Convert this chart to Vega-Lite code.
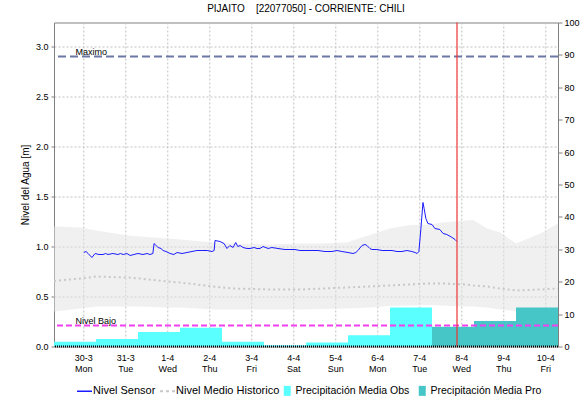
{
  "$schema": "https://vega.github.io/schema/vega-lite/v6.json",
  "width": 504,
  "height": 324,
  "autosize": {"type": "none"},
  "padding": {"left": 54, "top": 22.5, "right": 24, "bottom": 54.5},
  "background": "white",
  "config": {
    "font": "Liberation Sans",
    "view": {"stroke": "#808080", "strokeWidth": 1}
  },
  "title": {
    "text": "PIJAITO\u00a0\u00a0\u00a0 [22077050] - CORRIENTE: CHILI",
    "fontSize": 10,
    "fontWeight": "normal",
    "color": "#000000",
    "anchor": "middle",
    "offset": 5
  },
  "datasets": {
    "dias": [
      {"d": "2020-03-30T00:00:00Z", "fecha": "30-3", "dia": "Mon"},
      {"d": "2020-03-31T00:00:00Z", "fecha": "31-3", "dia": "Tue"},
      {"d": "2020-04-01T00:00:00Z", "fecha": "1-4", "dia": "Wed"},
      {"d": "2020-04-02T00:00:00Z", "fecha": "2-4", "dia": "Thu"},
      {"d": "2020-04-03T00:00:00Z", "fecha": "3-4", "dia": "Fri"},
      {"d": "2020-04-04T00:00:00Z", "fecha": "4-4", "dia": "Sat"},
      {"d": "2020-04-05T00:00:00Z", "fecha": "5-4", "dia": "Sun"},
      {"d": "2020-04-06T00:00:00Z", "fecha": "6-4", "dia": "Mon"},
      {"d": "2020-04-07T00:00:00Z", "fecha": "7-4", "dia": "Tue"},
      {"d": "2020-04-08T00:00:00Z", "fecha": "8-4", "dia": "Wed"},
      {"d": "2020-04-09T00:00:00Z", "fecha": "9-4", "dia": "Thu"},
      {"d": "2020-04-10T00:00:00Z", "fecha": "10-4", "dia": "Fri"}
    ],
    "precip": [
      {"serie": "Precipitación Media Obs", "inicio": "2020-03-29T07:00:00Z", "fin": "2020-03-30T07:00:00Z", "mm": 1.5},
      {"serie": "Precipitación Media Obs", "inicio": "2020-03-30T07:00:00Z", "fin": "2020-03-31T07:00:00Z", "mm": 2.3},
      {"serie": "Precipitación Media Obs", "inicio": "2020-03-31T07:00:00Z", "fin": "2020-04-01T07:00:00Z", "mm": 4.5},
      {"serie": "Precipitación Media Obs", "inicio": "2020-04-01T07:00:00Z", "fin": "2020-04-02T07:00:00Z", "mm": 5.8},
      {"serie": "Precipitación Media Obs", "inicio": "2020-04-02T07:00:00Z", "fin": "2020-04-03T07:00:00Z", "mm": 1.5},
      {"serie": "Precipitación Media Obs", "inicio": "2020-04-03T07:00:00Z", "fin": "2020-04-04T07:00:00Z", "mm": 0.4},
      {"serie": "Precipitación Media Obs", "inicio": "2020-04-04T07:00:00Z", "fin": "2020-04-05T07:00:00Z", "mm": 1.2},
      {"serie": "Precipitación Media Obs", "inicio": "2020-04-05T07:00:00Z", "fin": "2020-04-06T07:00:00Z", "mm": 3.5},
      {"serie": "Precipitación Media Obs", "inicio": "2020-04-06T07:00:00Z", "fin": "2020-04-07T07:00:00Z", "mm": 12.0},
      {"serie": "Precipitación Media Pro", "inicio": "2020-04-07T07:00:00Z", "fin": "2020-04-08T07:00:00Z", "mm": 6.1},
      {"serie": "Precipitación Media Pro", "inicio": "2020-04-08T07:00:00Z", "fin": "2020-04-09T07:00:00Z", "mm": 7.9},
      {"serie": "Precipitación Media Pro", "inicio": "2020-04-09T07:00:00Z", "fin": "2020-04-10T07:00:00Z", "mm": 12.0}
    ],
    "hist": [
      {"t": "2020-03-29T07:00:00Z", "lo": 0.35, "hi": 1.20, "media": 0.655},
      {"t": "2020-03-29T22:00:00Z", "lo": 0.38, "hi": 1.19, "media": 0.68},
      {"t": "2020-03-30T07:00:00Z", "lo": 0.40, "hi": 1.16, "media": 0.70},
      {"t": "2020-03-31T01:00:00Z", "lo": 0.40, "hi": 1.11, "media": 0.69},
      {"t": "2020-03-31T08:00:00Z", "lo": 0.40, "hi": 1.10, "media": 0.68},
      {"t": "2020-04-01T00:00:00Z", "lo": 0.39, "hi": 1.08, "media": 0.65},
      {"t": "2020-04-01T07:00:00Z", "lo": 0.39, "hi": 1.07, "media": 0.64},
      {"t": "2020-04-02T02:00:00Z", "lo": 0.37, "hi": 1.04, "media": 0.60},
      {"t": "2020-04-02T13:00:00Z", "lo": 0.37, "hi": 1.03, "media": 0.58},
      {"t": "2020-04-03T01:00:00Z", "lo": 0.37, "hi": 1.025, "media": 0.575},
      {"t": "2020-04-03T11:00:00Z", "lo": 0.37, "hi": 1.02, "media": 0.57},
      {"t": "2020-04-04T04:00:00Z", "lo": 0.37, "hi": 1.03, "media": 0.57},
      {"t": "2020-04-04T17:00:00Z", "lo": 0.375, "hi": 1.03, "media": 0.58},
      {"t": "2020-04-05T06:00:00Z", "lo": 0.38, "hi": 1.04, "media": 0.59},
      {"t": "2020-04-05T19:30:00Z", "lo": 0.39, "hi": 1.115, "media": 0.60},
      {"t": "2020-04-06T07:00:00Z", "lo": 0.405, "hi": 1.18, "media": 0.61},
      {"t": "2020-04-06T18:30:00Z", "lo": 0.41, "hi": 1.215, "media": 0.62},
      {"t": "2020-04-07T06:00:00Z", "lo": 0.415, "hi": 1.22, "media": 0.63},
      {"t": "2020-04-07T13:00:00Z", "lo": 0.41, "hi": 1.24, "media": 0.63},
      {"t": "2020-04-08T03:00:00Z", "lo": 0.40, "hi": 1.26, "media": 0.62},
      {"t": "2020-04-08T06:30:00Z", "lo": 0.40, "hi": 1.265, "media": 0.61},
      {"t": "2020-04-08T14:30:00Z", "lo": 0.39, "hi": 1.18, "media": 0.60},
      {"t": "2020-04-08T22:00:00Z", "lo": 0.37, "hi": 1.14, "media": 0.58},
      {"t": "2020-04-09T07:00:00Z", "lo": 0.355, "hi": 1.03, "media": 0.56},
      {"t": "2020-04-09T21:00:00Z", "lo": 0.37, "hi": 1.13, "media": 0.57},
      {"t": "2020-04-10T07:00:00Z", "lo": 0.38, "hi": 1.23, "media": 0.58}
    ],
    "sensor": [
      {"t": "2020-03-30T00:00:00Z", "nivel": 0.94},
      {"t": "2020-03-30T01:20:00Z", "nivel": 0.95},
      {"t": "2020-03-30T02:30:00Z", "nivel": 0.93},
      {"t": "2020-03-30T04:40:00Z", "nivel": 0.89},
      {"t": "2020-03-30T06:30:00Z", "nivel": 0.93},
      {"t": "2020-03-30T08:40:00Z", "nivel": 0.92},
      {"t": "2020-03-30T11:00:00Z", "nivel": 0.92},
      {"t": "2020-03-30T12:30:00Z", "nivel": 0.93},
      {"t": "2020-03-30T13:50:00Z", "nivel": 0.92},
      {"t": "2020-03-30T16:40:00Z", "nivel": 0.93},
      {"t": "2020-03-30T19:30:00Z", "nivel": 0.92},
      {"t": "2020-03-30T21:00:00Z", "nivel": 0.93},
      {"t": "2020-03-30T22:30:00Z", "nivel": 0.92},
      {"t": "2020-03-31T00:40:00Z", "nivel": 0.93},
      {"t": "2020-03-31T02:30:00Z", "nivel": 0.91},
      {"t": "2020-03-31T04:40:00Z", "nivel": 0.92},
      {"t": "2020-03-31T07:00:00Z", "nivel": 0.93},
      {"t": "2020-03-31T09:50:00Z", "nivel": 0.92},
      {"t": "2020-03-31T12:10:00Z", "nivel": 0.93},
      {"t": "2020-03-31T13:50:00Z", "nivel": 0.92},
      {"t": "2020-03-31T15:30:00Z", "nivel": 0.93},
      {"t": "2020-03-31T16:10:00Z", "nivel": 1.03},
      {"t": "2020-03-31T17:20:00Z", "nivel": 1.01},
      {"t": "2020-03-31T18:30:00Z", "nivel": 0.99},
      {"t": "2020-03-31T20:10:00Z", "nivel": 0.98},
      {"t": "2020-03-31T21:20:00Z", "nivel": 0.96},
      {"t": "2020-03-31T23:00:00Z", "nivel": 0.95},
      {"t": "2020-04-01T01:20:00Z", "nivel": 0.93},
      {"t": "2020-04-01T03:30:00Z", "nivel": 0.92},
      {"t": "2020-04-01T05:20:00Z", "nivel": 0.94},
      {"t": "2020-04-01T08:10:00Z", "nivel": 0.93},
      {"t": "2020-04-01T11:00:00Z", "nivel": 0.94},
      {"t": "2020-04-01T13:50:00Z", "nivel": 0.95},
      {"t": "2020-04-01T16:40:00Z", "nivel": 0.96},
      {"t": "2020-04-01T19:30:00Z", "nivel": 0.96},
      {"t": "2020-04-01T22:30:00Z", "nivel": 0.96},
      {"t": "2020-04-02T01:20:00Z", "nivel": 0.95},
      {"t": "2020-04-02T02:30:00Z", "nivel": 0.96},
      {"t": "2020-04-02T03:00:00Z", "nivel": 1.06},
      {"t": "2020-04-02T05:50:00Z", "nivel": 1.05},
      {"t": "2020-04-02T08:10:00Z", "nivel": 1.03},
      {"t": "2020-04-02T09:50:00Z", "nivel": 0.98},
      {"t": "2020-04-02T11:30:00Z", "nivel": 1.01},
      {"t": "2020-04-02T13:20:00Z", "nivel": 0.99},
      {"t": "2020-04-02T14:50:00Z", "nivel": 1.04},
      {"t": "2020-04-02T16:00:00Z", "nivel": 1.00},
      {"t": "2020-04-02T17:20:00Z", "nivel": 1.01},
      {"t": "2020-04-02T19:00:00Z", "nivel": 0.99},
      {"t": "2020-04-02T21:20:00Z", "nivel": 0.98},
      {"t": "2020-04-02T23:00:00Z", "nivel": 0.98},
      {"t": "2020-04-03T01:20:00Z", "nivel": 0.99},
      {"t": "2020-04-03T03:00:00Z", "nivel": 0.98},
      {"t": "2020-04-03T04:40:00Z", "nivel": 0.98},
      {"t": "2020-04-03T06:30:00Z", "nivel": 1.00},
      {"t": "2020-04-03T09:20:00Z", "nivel": 0.98},
      {"t": "2020-04-03T11:30:00Z", "nivel": 0.99},
      {"t": "2020-04-03T15:00:00Z", "nivel": 0.98},
      {"t": "2020-04-03T19:00:00Z", "nivel": 0.97},
      {"t": "2020-04-03T21:50:00Z", "nivel": 0.97},
      {"t": "2020-04-04T00:40:00Z", "nivel": 0.97},
      {"t": "2020-04-04T03:30:00Z", "nivel": 0.96},
      {"t": "2020-04-04T06:30:00Z", "nivel": 0.96},
      {"t": "2020-04-04T09:50:00Z", "nivel": 0.96},
      {"t": "2020-04-04T13:50:00Z", "nivel": 0.96},
      {"t": "2020-04-04T17:50:00Z", "nivel": 0.95},
      {"t": "2020-04-04T21:50:00Z", "nivel": 0.95},
      {"t": "2020-04-05T00:40:00Z", "nivel": 0.96},
      {"t": "2020-04-05T03:30:00Z", "nivel": 0.95},
      {"t": "2020-04-05T07:00:00Z", "nivel": 0.94},
      {"t": "2020-04-05T09:50:00Z", "nivel": 0.93},
      {"t": "2020-04-05T11:30:00Z", "nivel": 0.94},
      {"t": "2020-04-05T12:40:00Z", "nivel": 0.96},
      {"t": "2020-04-05T15:00:00Z", "nivel": 1.01},
      {"t": "2020-04-05T16:40:00Z", "nivel": 1.02},
      {"t": "2020-04-05T17:50:00Z", "nivel": 1.01},
      {"t": "2020-04-05T19:30:00Z", "nivel": 0.98},
      {"t": "2020-04-05T20:40:00Z", "nivel": 0.97},
      {"t": "2020-04-05T23:30:00Z", "nivel": 0.97},
      {"t": "2020-04-06T02:30:00Z", "nivel": 0.96},
      {"t": "2020-04-06T05:20:00Z", "nivel": 0.96},
      {"t": "2020-04-06T08:10:00Z", "nivel": 0.96},
      {"t": "2020-04-06T11:00:00Z", "nivel": 0.95},
      {"t": "2020-04-06T13:50:00Z", "nivel": 0.95},
      {"t": "2020-04-06T16:40:00Z", "nivel": 0.96},
      {"t": "2020-04-06T19:30:00Z", "nivel": 0.95},
      {"t": "2020-04-06T21:20:00Z", "nivel": 0.94},
      {"t": "2020-04-06T22:30:00Z", "nivel": 0.93},
      {"t": "2020-04-06T23:30:00Z", "nivel": 0.95},
      {"t": "2020-04-07T00:40:00Z", "nivel": 1.18},
      {"t": "2020-04-07T01:50:00Z", "nivel": 1.44},
      {"t": "2020-04-07T02:30:00Z", "nivel": 1.38},
      {"t": "2020-04-07T03:30:00Z", "nivel": 1.28},
      {"t": "2020-04-07T04:40:00Z", "nivel": 1.23},
      {"t": "2020-04-07T07:00:00Z", "nivel": 1.22},
      {"t": "2020-04-07T08:40:00Z", "nivel": 1.18},
      {"t": "2020-04-07T11:30:00Z", "nivel": 1.17},
      {"t": "2020-04-07T13:20:00Z", "nivel": 1.13},
      {"t": "2020-04-07T15:30:00Z", "nivel": 1.12},
      {"t": "2020-04-07T18:30:00Z", "nivel": 1.09},
      {"t": "2020-04-07T20:10:00Z", "nivel": 1.07},
      {"t": "2020-04-07T21:17:00Z", "nivel": 1.05}
    ],
    "umbrales": [
      {"nombre": "Maximo", "v": 2.9},
      {"nombre": "Nivel Bajo", "v": 0.21}
    ],
    "ahora": [
      {"t": "2020-04-07T21:17:00Z"}
    ]
  },
  "resolve": {"scale": {"y": "independent"}},
  "layer": [
    {
      "data": {"name": "dias"},
      "mark": {"type": "rule", "stroke": "#c0c0c0", "strokeWidth": 1, "strokeDash": [2, 2]},
      "encoding": {
        "x": {
          "field": "d", "type": "temporal",
          "scale": {"type": "utc", "nice": false, "domain": [1585465200000, 1586502000000]},
          "axis": null
        }
      }
    },
    {
      "data": {"name": "hist"},
      "mark": {"type": "area", "fill": "#e1e1e1", "fillOpacity": 0.5, "clip": true},
      "encoding": {
        "x": {"field": "t", "type": "temporal", "axis": null},
        "y": {
          "field": "lo", "type": "quantitative",
          "scale": {"domain": [0, 3.24], "nice": false, "zero": true},
          "axis": {
            "orient": "left", "values": [0, 0.5, 1, 1.5, 2, 2.5, 3], "format": ".1f",
            "labelFontSize": 9, "labelColor": "#000000", "labelPadding": 3,
            "tickSize": 3, "tickColor": "#808080", "domainColor": "#808080",
            "grid": true, "gridColor": "#c0c0c0", "gridDash": [2, 2],
            "title": "Nivel del Agua [m]", "titleFontSize": 10, "titleFontWeight": "normal",
            "titleColor": "#000000", "titlePadding": 5
          }
        },
        "y2": {"field": "hi"}
      }
    },
    {
      "data": {"name": "precip"},
      "mark": {"type": "rect", "strokeWidth": 0, "clip": true},
      "encoding": {
        "x": {"field": "inicio", "type": "temporal", "axis": null},
        "x2": {"field": "fin"},
        "y": {
          "field": "mm", "type": "quantitative",
          "scale": {"domain": [0, 100], "nice": false, "zero": true},
          "axis": {
            "orient": "right", "title": null, "values": [0, 10, 20, 30, 40, 50, 60, 70, 80, 90, 100],
            "labelFontSize": 9, "labelColor": "#000000", "tickSize": 4, "tickColor": "#808080",
            "domainColor": "#808080", "grid": false, "labelPadding": 2
          }
        },
        "y2": {"datum": 0},
        "fill": {
          "field": "serie", "type": "nominal",
          "scale": {"domain": ["Precipitación Media Obs", "Precipitación Media Pro"], "range": ["#5affff", "#46c6c6"]},
          "legend": {
            "orient": "none", "legendX": 228, "legendY": 363, "direction": "horizontal", "title": null,
            "symbolType": "M-0.7,-1H0.7V1H-0.7Z", "symbolSize": 100, "symbolStrokeWidth": 0,
            "labelFontSize": 10.5, "labelColor": "#000000", "labelOffset": 3, "columnPadding": 7
          }
        }
      }
    },
    {
      "data": {"name": "hist"},
      "mark": {"type": "line", "strokeWidth": 2, "strokeDash": [2, 3], "clip": true},
      "encoding": {
        "x": {"field": "t", "type": "temporal", "axis": null},
        "y": {"field": "media", "type": "quantitative", "scale": {"domain": [0, 3.24], "nice": false}, "axis": null},
        "stroke": {
          "datum": "Nivel Medio Historico", "type": "nominal",
          "scale": {"domain": ["Nivel Sensor", "Nivel Medio Historico"], "range": ["#1a1aff", "#c8c8c8"]},
          "legend": {
            "orient": "none", "legendX": 25, "legendY": 363, "direction": "horizontal", "title": null,
            "symbolType": "stroke", "symbolSize": 225, "symbolStrokeWidth": 1.5,
            "labelFontSize": 11, "labelColor": "#000000", "labelOffset": 3, "columnPadding": 0,
            "encode": {
              "symbols": {
                "update": {
                  "strokeDash": {"signal": "datum.label === 'Nivel Medio Historico' ? [3, 3] : [1, 0]"},
                  "strokeWidth": {"signal": "datum.label === 'Nivel Medio Historico' ? 2 : 1.5"}
                }
              }
            }
          }
        }
      }
    },
    {
      "data": {"name": "sensor"},
      "mark": {"type": "line", "strokeWidth": 1, "clip": true},
      "encoding": {
        "x": {"field": "t", "type": "temporal", "axis": null},
        "y": {"field": "nivel", "type": "quantitative", "scale": {"domain": [0, 3.24], "nice": false}, "axis": null},
        "stroke": {"datum": "Nivel Sensor", "type": "nominal"}
      }
    },
    {
      "data": {"name": "umbrales"},
      "transform": [{"filter": "datum.nombre === 'Maximo'"}],
      "mark": {"type": "rule", "stroke": "#6b78a6", "strokeWidth": 2, "strokeDash": [8, 4]},
      "encoding": {
        "y": {"field": "v", "type": "quantitative", "scale": {"domain": [0, 3.24], "nice": false}, "axis": null}
      }
    },
    {
      "data": {"name": "umbrales"},
      "transform": [{"filter": "datum.nombre === 'Nivel Bajo'"}],
      "mark": {"type": "rule", "stroke": "#f040f0", "strokeWidth": 2, "strokeDash": [6, 3]},
      "encoding": {
        "y": {"field": "v", "type": "quantitative", "scale": {"domain": [0, 3.24], "nice": false}, "axis": null}
      }
    },
    {
      "data": {"name": "umbrales"},
      "mark": {"type": "text", "fontSize": 9, "align": "left", "baseline": "alphabetic", "dy": -2, "color": "#000000"},
      "encoding": {
        "x": {"datum": 1585509300000, "type": "temporal", "axis": null},
        "y": {"field": "v", "type": "quantitative", "scale": {"domain": [0, 3.24], "nice": false}, "axis": null},
        "text": {"field": "nombre"}
      }
    },
    {
      "data": {"name": "ahora"},
      "mark": {"type": "rule", "stroke": "#ee3333", "strokeWidth": 1.2},
      "encoding": {
        "x": {"field": "t", "type": "temporal", "axis": null}
      }
    },
    {
      "data": {"name": "ahora"},
      "mark": {"type": "rule", "stroke": "#000000", "strokeWidth": 2, "strokeDash": [1, 1]},
      "encoding": {
        "y": {"datum": 0, "type": "quantitative", "scale": {"domain": [0, 3.24], "nice": false}, "axis": null}
      }
    },
    {
      "data": {"name": "dias"},
      "mark": {"type": "text", "fontSize": 9, "align": "center", "baseline": "middle", "dy": 11, "color": "#000000"},
      "encoding": {
        "x": {"field": "d", "type": "temporal", "axis": null},
        "y": {"datum": 0, "type": "quantitative", "scale": {"domain": [0, 3.24], "nice": false}, "axis": null},
        "text": {"field": "fecha"}
      }
    },
    {
      "data": {"name": "dias"},
      "mark": {"type": "text", "fontSize": 9, "align": "center", "baseline": "middle", "dy": 22, "color": "#000000"},
      "encoding": {
        "x": {"field": "d", "type": "temporal", "axis": null},
        "y": {"datum": 0, "type": "quantitative", "scale": {"domain": [0, 3.24], "nice": false}, "axis": null},
        "text": {"field": "dia"}
      }
    }
  ]
}
